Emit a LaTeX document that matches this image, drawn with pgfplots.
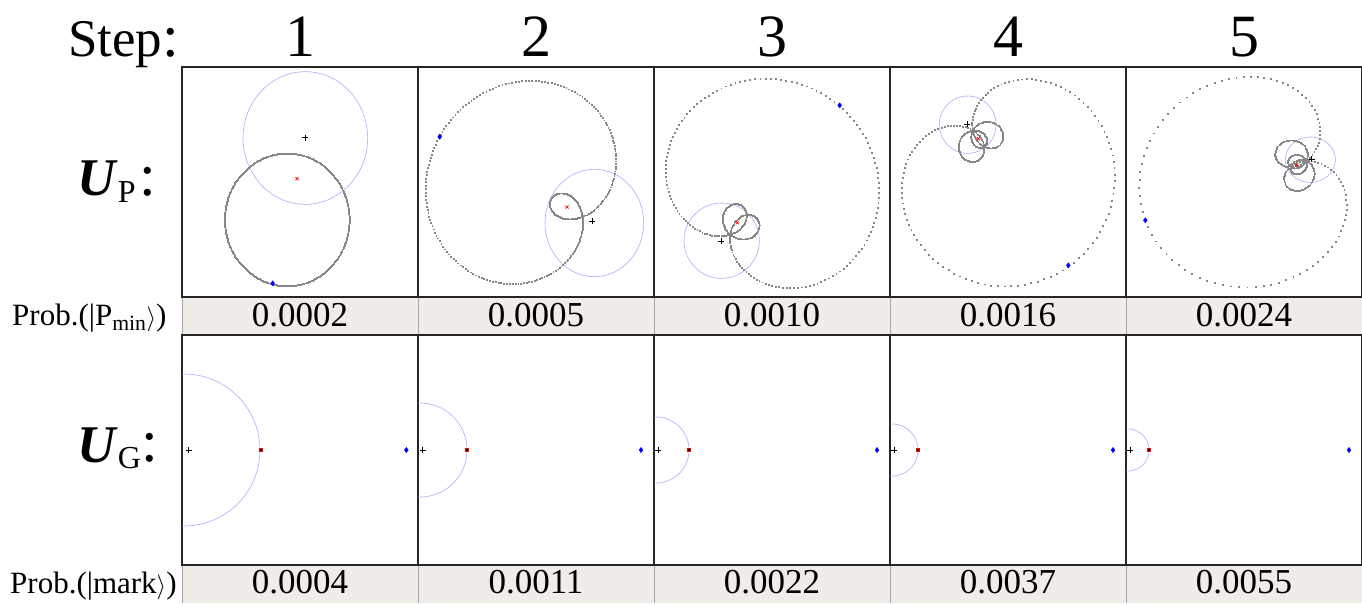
\documentclass[border=0pt]{standalone}
\usepackage{pgfplots}
\pgfplotsset{compat=1.18}
\usepackage{fontspec}
\setmainfont{Liberation Serif}

\definecolor{ringblue}{RGB}{172,172,250}
\definecolor{cellfill}{RGB}{240,236,232}
\definecolor{cellrule}{RGB}{165,165,165}
\definecolor{trace}{RGB}{135,135,135}

% Panel coordinates: x runs 0..708 across a panel, y runs downwards.
\pgfplotsset{
  panel/.style={
    width=236pt, height=230pt, scale only axis,
    xmin=0, xmax=708, y dir=reverse,
    ticks=none, axis line style={line width=1.5pt, black!85},
    clip=true, anchor=north west,
  },
  toprow/.style={panel, ymin=3, ymax=693},
  botrow/.style={panel, ymin=0, ymax=690},
  dots/.style={only marks, mark=square*, mark size=0.45pt, trace},
  ring/.style={ringblue, line width=0.6pt, no marks},
  centre/.style={only marks, mark=+, mark size=3pt, black, line width=0.5pt},
  origin/.style={only marks, mark=x, mark size=2.2pt, red, line width=0.7pt},
  start/.style={only marks, mark=diamond*, mark size=2.6pt, blue},
  target/.style={only marks, mark=square*, mark size=1.4pt, draw=red, fill=black},
}

% phasor weights w1..w5 (w0 = 1)
\newcommand{\weights}[5]{\def\wtA{#1}\def\wtB{#2}\def\wtC{#3}\def\wtD{#4}\def\wtE{#5}}
\def\Xs{(1+\wtA*cos(\t)+\wtB*cos(2*\t)+\wtC*cos(3*\t)+\wtD*cos(4*\t)+\wtE*cos(5*\t))}
\def\Ys{(\wtA*sin(\t)+\wtB*sin(2*\t)+\wtC*sin(3*\t)+\wtD*sin(4*\t)+\wtE*sin(5*\t))}
% trajectory: origin x, origin y, axis angle, scale along axis, scale across axis
\newcommand{\trajectory}[5]{%
  \addplot[dots, domain=0:358.8, samples=300, variable=\t]
    ({#1 + #4*cos(#3)*\Xs - #5*sin(#3)*\Ys},
     {#2 + #4*sin(#3)*\Xs + #5*cos(#3)*\Ys});
}
% ellipse ring: centre x, centre y, radius x, radius y
\newcommand{\ringplot}[4]{%
  \addplot[ring, domain=0:360, samples=140, variable=\t]
    ({#1 + #3*cos(\t)}, {#2 + #4*sin(\t)});
}

\begin{document}
\begin{tikzpicture}
\useasboundingbox (0,0) rectangle (1362pt,-603pt);

% probability rows
\fill[cellfill] (182pt,-297pt) rectangle (1362pt,-335pt);
\fill[cellfill] (182pt,-565pt) rectangle (1362pt,-603pt);
\foreach \xx in {182,418,654,890,1126}{
  \draw[cellrule, line width=0.8pt] (\xx pt,-297pt) -- (\xx pt,-335pt);
  \draw[cellrule, line width=0.8pt] (\xx pt,-565pt) -- (\xx pt,-603pt);
}

% ---------- U_P row ----------
\begin{axis}[toprow, at={(182pt,-67pt)}]
  \addplot[dots, domain=0:358.8, samples=300, variable=\t]
    ({315+187*cos(\t)}, {461+199*sin(\t)});
  \ringplot{370}{216}{187}{199}
  \addplot[centre] coordinates {(370,215)};
  \addplot[origin] coordinates {(345,338)};
  \addplot[start]  coordinates {(272,652)};
\end{axis}

\weights{1.28}{1}{0}{0}{0}
\begin{axis}[toprow, at={(418pt,-67pt)}]
  \trajectory{493}{452}{210}{150}{157}
  \ringplot{529}{471}{148}{161}
  \addplot[centre] coordinates {(522,466)};
  \addplot[origin] coordinates {(447,423)};
  \addplot[start]  coordinates {(65,212)};
\end{axis}

\weights{1.3}{1.3}{1}{0}{0}
\begin{axis}[toprow, at={(654pt,-67pt)}]
  \trajectory{228}{505}{-50}{110}{111}
  \ringplot{203}{524}{113}{113}
  \addplot[centre] coordinates {(202,525)};
  \addplot[origin] coordinates {(250,470)};
  \addplot[start]  coordinates {(557,118)};
\end{axis}

\weights{1.3}{1.3}{1.3}{1}{0}
\begin{axis}[toprow, at={(890pt,-67pt)}]
  \trajectory{248}{193}{55}{84.5}{82.5}
  \ringplot{233}{176}{85}{86}
  \addplot[centre] coordinates {(232,175)};
  \addplot[origin] coordinates {(265,218)};
  \addplot[start]  coordinates {(535,598)};
\end{axis}

\weights{1.3}{1.3}{1.3}{1.3}{1}
\begin{axis}[toprow, at={(1126pt,-67pt)}]
  \trajectory{540}{285}{160}{71.4}{64.3}
  \ringplot{553}{281}{75}{68}
  \addplot[centre] coordinates {(557,280)};
  \addplot[origin] coordinates {(512,297)};
  \addplot[start]  coordinates {(58,463)};
\end{axis}

% ---------- U_G row ----------
\begin{axis}[botrow, at={(182pt,-335pt)}]
  \ringplot{6}{345}{228}{228}
  \addplot[centre] coordinates {(20,345)};
  \addplot[target] coordinates {(236,345)};
  \addplot[start]  coordinates {(673,345)};
\end{axis}
\begin{axis}[botrow, at={(418pt,-335pt)}]
  \ringplot{6}{345}{141}{141}
  \addplot[centre] coordinates {(14,345)};
  \addplot[target] coordinates {(147,345)};
  \addplot[start]  coordinates {(669,345)};
\end{axis}
\begin{axis}[botrow, at={(654pt,-335pt)}]
  \ringplot{6}{345}{99}{99}
  \addplot[centre] coordinates {(12,345)};
  \addplot[target] coordinates {(105,345)};
  \addplot[start]  coordinates {(669,345)};
\end{axis}
\begin{axis}[botrow, at={(890pt,-335pt)}]
  \ringplot{6}{345}{78}{78}
  \addplot[centre] coordinates {(12,345)};
  \addplot[target] coordinates {(84,345)};
  \addplot[start]  coordinates {(669,345)};
\end{axis}
\begin{axis}[botrow, at={(1126pt,-335pt)}]
  \ringplot{6}{345}{63}{63}
  \addplot[centre] coordinates {(12,345)};
  \addplot[target] coordinates {(69,345)};
  \addplot[start]  coordinates {(669,345)};
\end{axis}

% ---------- headings ----------
\node[anchor=base west, inner sep=0] at (68pt,-56pt) {\fontsize{53}{53}\selectfont Step};
\node[anchor=base west, inner sep=0] at (162pt,-56pt) {\fontsize{60}{60}\selectfont :};
\foreach \n [count=\i from 0] in {1,2,3,4,5}{
  \node[anchor=base, inner sep=0] at ({300pt+236pt*\i},-56pt) {\fontsize{60}{60}\selectfont \n};
}

\node[anchor=base west, inner sep=0] at (77pt,-195pt)
  {\fontsize{53}{53}\selectfont\textbf{\textit{U}}\raisebox{-7pt}{\fontsize{32}{32}\selectfont P}};
\node[anchor=base west, inner sep=0] at (139pt,-195pt) {\fontsize{60}{60}\selectfont :};
\node[anchor=base west, inner sep=0] at (77pt,-462pt)
  {\fontsize{53}{53}\selectfont\textbf{\textit{U}}\raisebox{-6pt}{\fontsize{32}{32}\selectfont G}};
\node[anchor=base west, inner sep=0] at (141pt,-461pt) {\fontsize{60}{60}\selectfont :};

\node[anchor=base west, inner sep=0] at (12pt,-325pt)
  {\fontsize{31}{31}\selectfont Prob.(|P\textsubscript{min}$\rangle$)};
\node[anchor=base west, inner sep=0] at (10pt,-593pt)
  {\fontsize{31}{31}\selectfont Prob.(|mark$\rangle$)};

% ---------- probabilities ----------
\foreach \v [count=\i from 0] in {0.0002,0.0005,0.0010,0.0016,0.0024}{
  \node[anchor=base, inner sep=0] at ({300pt+236pt*\i},-326pt) {\fontsize{35}{35}\selectfont \v};
}
\foreach \v [count=\i from 0] in {0.0004,0.0011,0.0022,0.0037,0.0055}{
  \node[anchor=base, inner sep=0] at ({300pt+236pt*\i},-593pt) {\fontsize{35}{35}\selectfont \v};
}
\end{tikzpicture}
\end{document}
